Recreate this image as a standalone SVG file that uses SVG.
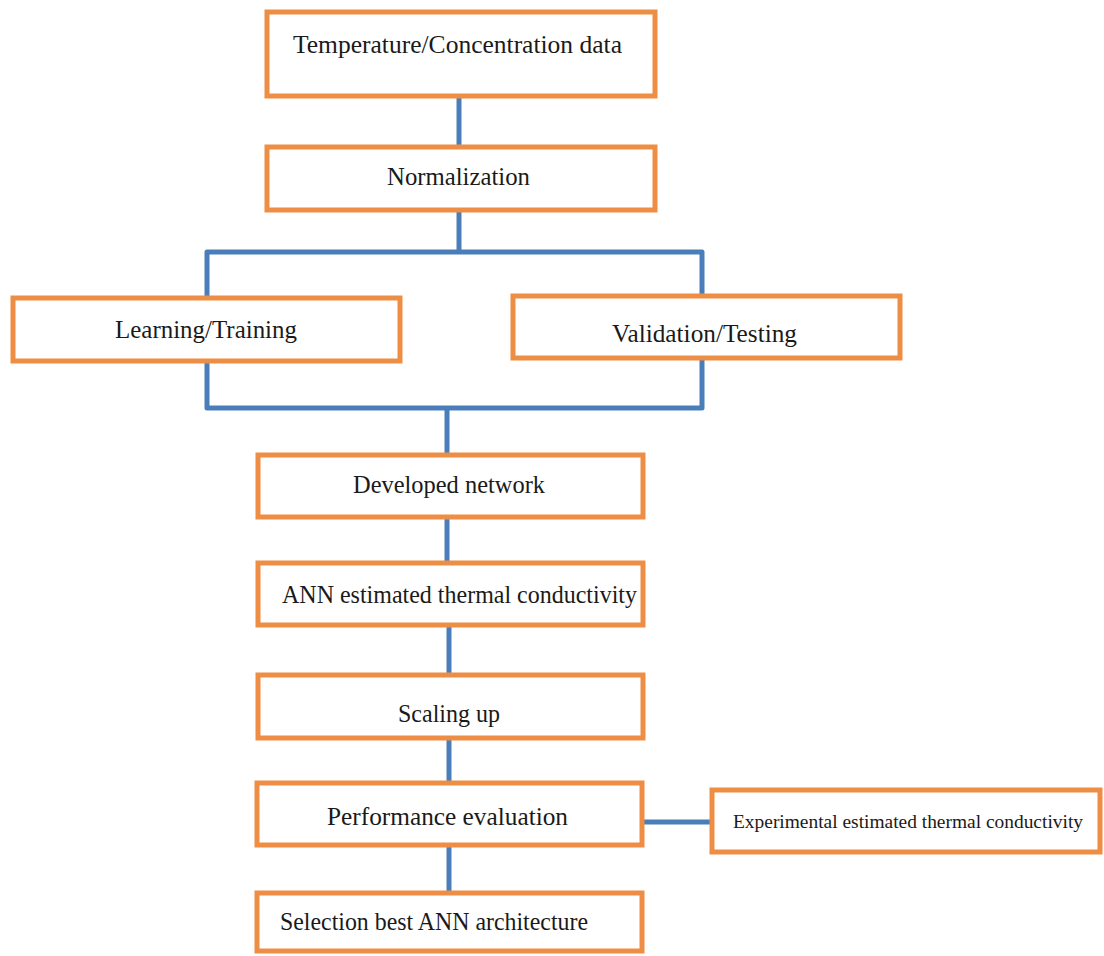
<svg xmlns="http://www.w3.org/2000/svg" width="1104" height="956" viewBox="0 0 1104 956">
<style>
.box{fill:#ffffff;stroke:#EE8E45;stroke-width:5}
.t{font-family:"Liberation Serif","Times New Roman",serif;font-size:26px;fill:#1a1a1a}
.s{font-family:"Liberation Serif","Times New Roman",serif;font-size:18px;fill:#1a1a1a}
.c{fill:none;stroke:#4A7EBB;stroke-width:5;stroke-linejoin:round}
</style>
<rect width="1104" height="956" fill="#ffffff"/>
<g id="connectors">
<path class="c" d="M459 96V147"/>
<path class="c" d="M459 210V252"/>
<path class="c" d="M207 298V252H702V296"/>
<path class="c" d="M207 361V408H702V358"/>
<path class="c" d="M447 408V455"/>
<path class="c" d="M447 517V563"/>
<path class="c" d="M449 625V675"/>
<path class="c" d="M449 738V783"/>
<path class="c" d="M449 845V893"/>
<path class="c" d="M643 822H712"/>
</g>
<g id="n1"><rect class="box" x="267" y="12" width="388" height="84"/><text class="t" x="293" y="53" textLength="329" lengthAdjust="spacingAndGlyphs">Temperature/Concentration data</text></g>
<g id="n2"><rect class="box" x="267" y="147" width="388" height="63"/><text class="t" x="387" y="185" textLength="143" lengthAdjust="spacingAndGlyphs">Normalization</text></g>
<g id="n3"><rect class="box" x="13" y="298" width="387" height="63"/><text class="t" x="115" y="338" textLength="182" lengthAdjust="spacingAndGlyphs">Learning/Training</text></g>
<g id="n4"><rect class="box" x="513" y="296" width="387" height="62"/><text class="t" x="612" y="342" textLength="185" lengthAdjust="spacingAndGlyphs">Validation/Testing</text></g>
<g id="n5"><rect class="box" x="258" y="455" width="385" height="62"/><text class="t" x="353" y="493" textLength="192" lengthAdjust="spacingAndGlyphs">Developed network</text></g>
<g id="n6"><rect class="box" x="258" y="563" width="385" height="62"/><text class="t" x="282" y="603" textLength="355" lengthAdjust="spacingAndGlyphs">ANN estimated thermal conductivity</text></g>
<g id="n7"><rect class="box" x="258" y="675" width="385" height="63"/><text class="t" x="398" y="722" textLength="102" lengthAdjust="spacingAndGlyphs">Scaling up</text></g>
<g id="n8"><rect class="box" x="257" y="783" width="385" height="62"/><text class="t" x="327" y="825" textLength="241" lengthAdjust="spacingAndGlyphs">Performance evaluation</text></g>
<g id="n9"><rect class="box" x="257" y="893" width="385" height="58"/><text class="t" x="280" y="930" textLength="308" lengthAdjust="spacingAndGlyphs">Selection best ANN architecture</text></g>
<g id="n10"><rect class="box" x="712" y="790" width="388" height="62"/><text class="s" x="733" y="828" textLength="350" lengthAdjust="spacingAndGlyphs">Experimental  estimated  thermal  conductivity</text></g>
</svg>
